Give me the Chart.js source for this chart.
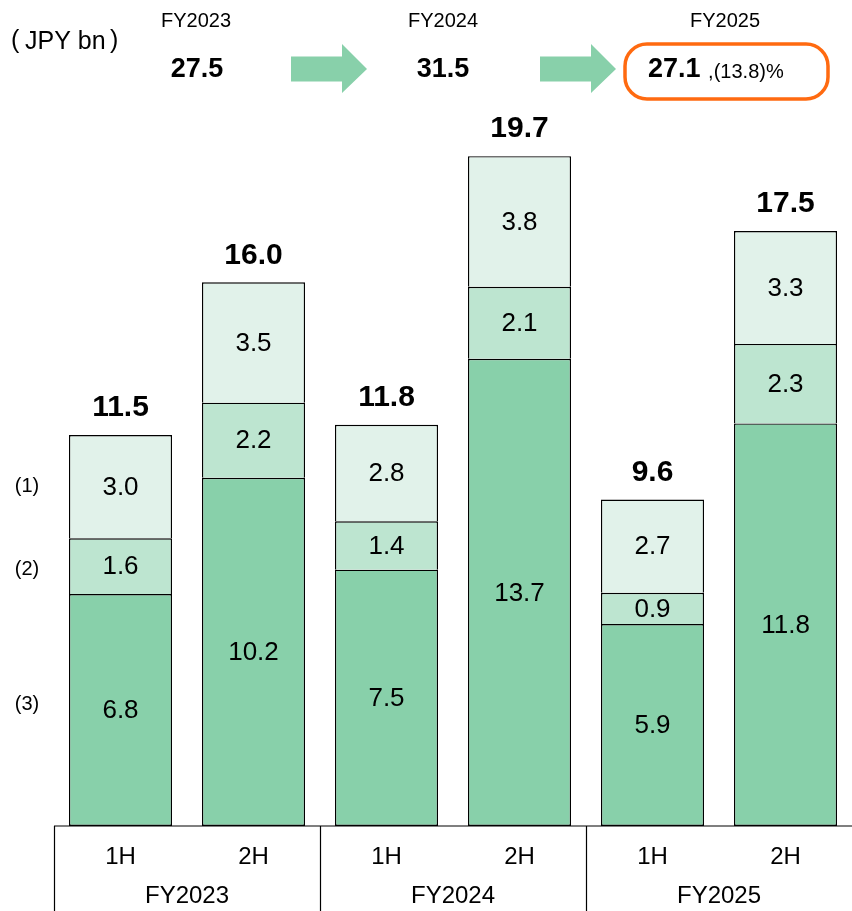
<!DOCTYPE html>
<html>
<head>
<meta charset="utf-8">
<script src="https://cdn.jsdelivr.net/npm/chart.js@4"></script>
<style>
  html, body { margin: 0; padding: 0; background: #fff; }
  #wrap { width: 852px; height: 911px; position: relative; }
</style>
</head>
<body>
<div id="wrap"><canvas id="chart"></canvas></div>
<script>
// ── Data ── (segment values, labels shown to 1 decimal)
const halves = ['1H', '2H', '1H', '2H', '1H', '2H'];
const fiscalYears = ['FY2023', 'FY2024', 'FY2025'];
const seg3 = [6.82, 10.24, 7.54, 13.74, 5.94, 11.84];   // bottom
const seg2 = [1.64, 2.21, 1.42, 2.12, 0.92, 2.34];      // middle
const seg1 = [3.04, 3.54, 2.84, 3.84, 2.74, 3.32];      // top
const totals = [11.5, 16.0, 11.8, 19.7, 9.6, 17.5];
const fyChange = '(13.8)%';
const segNames = ['(3)', '(2)', '(1)'];

const C_DARK = '#88D0AA';
const C_MID = '#BDE5D0';
const C_LIGHT = '#E1F2EA';
const FONT = "Arial, 'Liberation Sans', sans-serif";

// full-year totals from halves
const fyTotals = fiscalYears.map((_, i) => (totals[i * 2] + totals[i * 2 + 1]).toFixed(1));

function drawArrow(ctx, x, y) {
  // x = left of body, y = vertical centre
  ctx.save();
  ctx.fillStyle = C_DARK;
  ctx.beginPath();
  ctx.moveTo(x, y - 12.5);
  ctx.lineTo(x + 51, y - 12.5);
  ctx.lineTo(x + 51, y - 25);
  ctx.lineTo(x + 76, y);
  ctx.lineTo(x + 51, y + 24);
  ctx.lineTo(x + 51, y + 12.5);
  ctx.lineTo(x, y + 12.5);
  ctx.closePath();
  ctx.fill();
  ctx.restore();
}

function roundRect(ctx, x, y, w, h, r) {
  ctx.beginPath();
  ctx.moveTo(x + r, y);
  ctx.lineTo(x + w - r, y);
  ctx.arcTo(x + w, y, x + w, y + r, r);
  ctx.lineTo(x + w, y + h - r);
  ctx.arcTo(x + w, y + h, x + w - r, y + h, r);
  ctx.lineTo(x + r, y + h);
  ctx.arcTo(x, y + h, x, y + h - r, r);
  ctx.lineTo(x, y + r);
  ctx.arcTo(x, y, x + r, y, r);
  ctx.closePath();
}

const decorPlugin = {
  id: 'decor',
  afterDatasetsDraw(chart) {
    const ctx = chart.ctx;
    const area = chart.chartArea;
    const xs = chart.scales.x;
    ctx.save();
    ctx.fillStyle = '#000';
    ctx.textAlign = 'center';
    ctx.textBaseline = 'middle';

    // segment values
    chart.data.datasets.forEach((ds, di) => {
      const meta = chart.getDatasetMeta(di);
      meta.data.forEach((bar, i) => {
        const mid = (bar.y + bar.base) / 2;
        ctx.font = '26px ' + FONT;
        ctx.fillText(ds.data[i].toFixed(1), bar.x, mid + 1);
      });
    });

    // totals above bars
    const topMeta = chart.getDatasetMeta(2);
    topMeta.data.forEach((bar, i) => {
      ctx.font = 'bold 30px ' + FONT;
      ctx.fillText(totals[i].toFixed(1), bar.x, bar.y - 27);
    });

    // (1)(2)(3) labels beside first bar
    ctx.font = '20px ' + FONT;
    const nameShift = [-6, 3, 0];
    [0, 1, 2].forEach(di => {
      const bar = chart.getDatasetMeta(di).data[0];
      ctx.fillText(segNames[di], 27, (bar.y + bar.base) / 2 + nameShift[di]);
    });

    // category axis
    ctx.strokeStyle = '#000';
    ctx.lineWidth = 1.2;
    ctx.beginPath();
    ctx.moveTo(area.left, area.bottom);
    ctx.lineTo(area.right, area.bottom);
    const catW = (area.right - area.left) / halves.length;
    for (let g = 0; g < fiscalYears.length; g++) {
      const gx = Math.round(area.left + g * 2 * catW) + 0.5;
      ctx.moveTo(gx, area.bottom);
      ctx.lineTo(gx, chart.height);
    }
    ctx.stroke();

    ctx.font = '24px ' + FONT;
    halves.forEach((h, i) => {
      ctx.fillText(h, xs.getPixelForValue(i), area.bottom + 31);
    });
    fiscalYears.forEach((fy, g) => {
      ctx.fillText(fy, area.left + (g * 2 + 1) * catW, area.bottom + 70);
    });

    // header
    ctx.textAlign = 'left';
    ctx.font = '25px ' + FONT;
    ctx.fillText('(', 11, 41);
    ctx.fillText('JPY bn', 25, 42);
    ctx.fillText(')', 110, 41);

    const headX = [196, 443, 725];
    ctx.textAlign = 'center';
    fiscalYears.forEach((fy, g) => {
      ctx.font = '20px ' + FONT;
      ctx.fillText(fy, headX[g], 21);
    });
    ctx.font = 'bold 27px ' + FONT;
    ctx.fillText(fyTotals[0], 197, 70);
    ctx.fillText(fyTotals[1], 443, 70);

    drawArrow(ctx, 291, 69);
    drawArrow(ctx, 540, 69);

    // highlighted FY2025 box
    ctx.strokeStyle = '#FF6A10';
    ctx.lineWidth = 3.5;
    roundRect(ctx, 625, 44, 203, 55, 22);
    ctx.stroke();

    ctx.textAlign = 'left';
    ctx.font = 'bold 27px ' + FONT;
    ctx.fillText(fyTotals[2], 648, 70);
    const w = ctx.measureText(fyTotals[2]).width;
    ctx.font = '20px ' + FONT;
    ctx.fillText(' ,' + fyChange, 648 + w + 2, 72);

    ctx.restore();
  }
};

const ctx = document.getElementById('chart').getContext('2d');
new Chart(ctx, {
  type: 'bar',
  data: {
    labels: halves,
    datasets: [
      { label: '(3)', data: seg3, backgroundColor: C_DARK, borderSkipped: false },
      { label: '(2)', data: seg2, backgroundColor: C_MID, borderSkipped: 'bottom' },
      { label: '(1)', data: seg1, backgroundColor: C_LIGHT, borderSkipped: 'bottom' },
    ].map(d => Object.assign(d, {
      borderColor: '#000',
      borderWidth: 1.4,
      categoryPercentage: 1,
      barPercentage: 0.775,
    })),
  },
  options: {
    responsive: true,
    maintainAspectRatio: false,
    animation: false,
    layout: { padding: { left: 54, right: 0, top: 146, bottom: 85 } },
    scales: {
      x: { stacked: true, display: false },
      y: { stacked: true, display: false, min: 0, max: 20 },
    },
    plugins: {
      legend: { display: false },
      tooltip: { enabled: false },
    },
  },
  plugins: [decorPlugin],
});
</script>
</body>
</html>
